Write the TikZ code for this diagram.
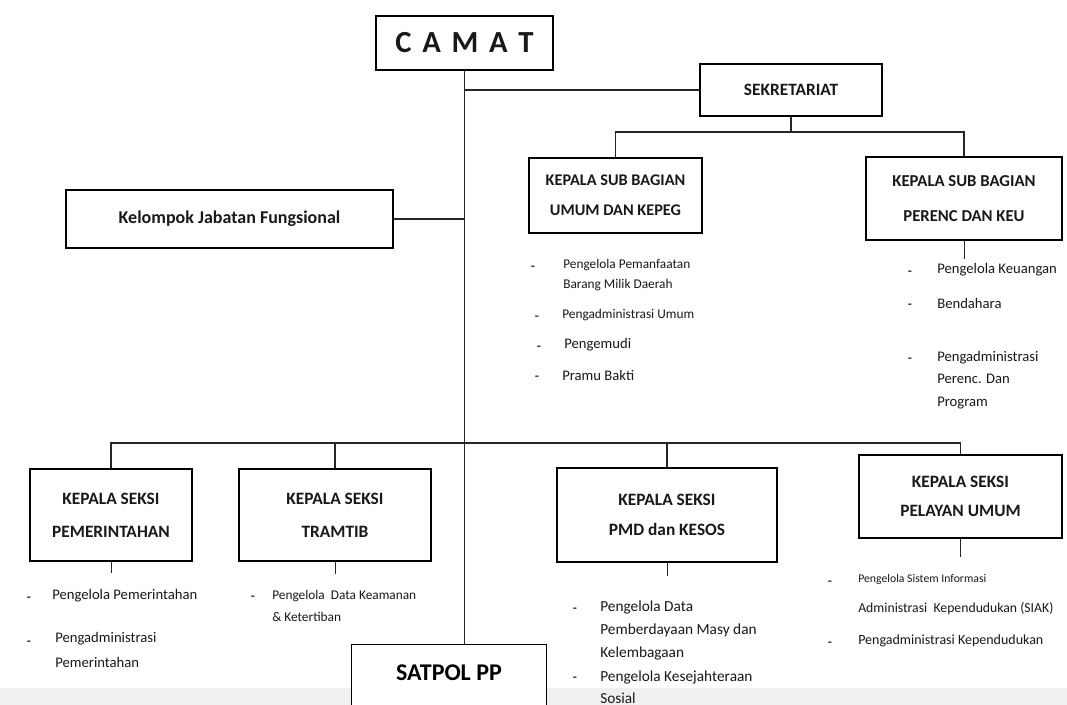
\documentclass[tikz,border=0pt]{standalone}
\usepackage{fontspec}
\setmainfont{Carlito}
\begin{document}
\begin{tikzpicture}[x=0.75pt,y=-0.75pt,
  box/.style={draw=black, line width=1pt, fill=white, inner sep=0pt, align=center, text=black!90},
  title/.style={font=\bfseries\fontsize{13}{25}\selectfont},
  conn/.style={draw=black!85, line width=1pt},
  dsh/.style={inner sep=0pt, yshift=-2.2pt, font=\bfseries\fontsize{10}{12}\selectfont, text=black!80},
  lst/.style={anchor=west, inner sep=0pt, align=left, text=black!90},
]
\useasboundingbox (0,0) rectangle (1067,705);
\fill[white] (0,0) rectangle (1067,705);
\fill[black!6] (0,688) rectangle (1067,705);

% boxes
\node[box, minimum width=132.75pt, minimum height=40.5pt, font=\bfseries\fontsize{23}{26}\selectfont] (camat) at (464.5,43) {C\hspace{0.35em}A\hspace{0.35em}M\hspace{0.35em}A\hspace{0.35em}T};
\node[box, minimum width=136.5pt, minimum height=39pt, font=\bfseries\fontsize{13}{16}\selectfont] (sekr) at (791,90) {SEKRETARIAT};
\node[box, minimum width=245.25pt, minimum height=43.5pt, font=\bfseries\fontsize{13.5}{16}\selectfont] (kjf) at (229.5,219) {Kelompok Jabatan Fungsional};
\node[box, minimum width=129.75pt, minimum height=56.25pt, font=\bfseries\fontsize{12.2}{22.5}\selectfont] (umum) at (615.5,195.5) {KEPALA SUB BAGIAN\\UMUM DAN KEPEG};
\node[box, minimum width=147pt, minimum height=62.25pt, font=\bfseries\fontsize{12.5}{26}\selectfont] (keu) at (964,198.5) {KEPALA SUB BAGIAN\\PERENC DAN KEU};
\node[box, minimum width=121.5pt, minimum height=69pt, title] (pem) at (111,515) {KEPALA SEKSI\\PEMERINTAHAN};
\node[box, minimum width=144pt, minimum height=69pt, title] (tram) at (335,515) {KEPALA SEKSI\\TRAMTIB};
\node[box, minimum width=165pt, minimum height=70.5pt, title, font=\bfseries\fontsize{13}{22.5}\selectfont] (pmd) at (667,515) {KEPALA SEKSI\\PMD dan KESOS};
\node[box, minimum width=152.25pt, minimum height=62.25pt, title, font=\bfseries\fontsize{13}{22}\selectfont] (pel) at (960.5,496.5) {KEPALA SEKSI\\PELAYAN UMUM};
\node[inner sep=0pt, fill=white, minimum width=145.5pt, minimum height=45pt] (satpol) at (449,675) {};
\node[inner sep=0pt, font=\bfseries\fontsize{18}{20}\selectfont] (satpoltxt) at (449,673) {SATPOL PP};
\draw[line width=1pt] (satpol.south west) -- (satpol.north west) -- (satpol.north east) -- (satpol.south east);

% connectors
\draw[conn] (camat.south) -- (camat.south |- satpol.north);
\draw[conn] (camat.south |- sekr.west) -- (sekr.west);
\draw[conn] (kjf.east) -- (camat.south |- kjf.east);
\coordinate (sbus) at (0,132);
\draw[conn] (sekr.south) -- (sekr.south |- sbus);
\draw[conn] (umum.north) -- (umum.north |- sbus) -| (keu.north);
\coordinate (bbus) at (0,443);
\draw[conn] (pem.north) -- (pem.north |- bbus) -| (pel.north);
\draw[conn] (tram.north) -- (tram.north |- bbus);
\draw[conn] (pmd.north) -- (pmd.north |- bbus);
% stubs
\draw[conn, line width=0.7pt] (keu.south) -- ++(0,18);
\draw[conn, line width=0.7pt] (pem.south) -- ++(0,11);
\draw[conn, line width=0.7pt] (tram.south) -- ++(0,12);
\draw[conn, line width=0.7pt] (pmd.south) -- ++(0,13);
\draw[conn, line width=0.7pt] (pel.south) -- ++(0,18);

% UMUM list
\node[dsh] (ud1) at (533,265) {-};
\node[lst, font=\fontsize{10}{15}\selectfont] (ut1) at (563,275) {Pengelola Pemanfaatan\\Barang Milik Daerah};
\node[dsh] (ud2) at (537,315) {-};
\node[lst, font=\fontsize{10}{12}\selectfont] (ut2) at (562,315) {Pengadministrasi Umum};
\node[dsh] (ud3) at (539,345) {-};
\node[lst, font=\fontsize{11}{13}\selectfont] (ut3) at (564,345) {Pengemudi};
\node[dsh] (ud4) at (537,375) {-};
\node[lst, font=\fontsize{11}{13}\selectfont] (ut4) at (562,375) {Pramu Bakti};

% KEU list
\node[dsh] (kd1) at (910,270) {-};
\node[lst, font=\fontsize{11}{13}\selectfont] (kt1) at (937,270) {Pengelola Keuangan};
\node[dsh] (kd2) at (910,303) {-};
\node[lst, font=\fontsize{11}{13}\selectfont] (kt2) at (937,303) {Bendahara};
\node[dsh] (kd3) at (910,357) {-};
\node[lst, font=\fontsize{11}{17}\selectfont] (kt3) at (937,380) {Pengadministrasi\\Perenc. Dan\\Program};

% PEMERINTAHAN list
\node[dsh] (pd1) at (29,596) {-};
\node[lst, font=\fontsize{11}{13}\selectfont] (pt1) at (52,596) {Pengelola Pemerintahan};
\node[dsh] (pd2) at (29,640) {-};
\node[lst, font=\fontsize{11}{18.75}\selectfont] (pt2) at (55,650) {Pengadministrasi\\Pemerintahan};

% TRAMTIB list
\node[dsh] (td1) at (253,595) {-};
\node[lst, font=\fontsize{10}{16.5}\selectfont] (tt1) at (272,606) {Pengelola\ \ Data Keamanan\\\& Ketertiban};

% PMD list
\node[dsh] (md1) at (575,607) {-};
\node[lst, font=\fontsize{11.5}{17.25}\selectfont] (mt1) at (600,630) {Pengelola Data\\Pemberdayaan Masy dan\\Kelembagaan};
\node[dsh] (md2) at (575,676) {-};
\node[lst, font=\fontsize{11.5}{16.5}\selectfont] (mt2) at (600,687) {Pengelola Kesejahteraan\\Sosial};

% PELAYAN list
\node[dsh] (ld1) at (830,580) {-};
\node[lst, font=\fontsize{10.3}{22.5}\selectfont] (lt1) at (858,595) {{\fontsize{8.8}{22.5}\selectfont Pengelola Sistem Informasi}\\Administrasi\ \ Kependudukan (SIAK)};
\node[dsh] (ld2) at (830,641) {-};
\node[lst, font=\fontsize{10.5}{13}\selectfont] (lt2) at (858,641) {Pengadministrasi Kependudukan};
\end{tikzpicture}
\end{document}
